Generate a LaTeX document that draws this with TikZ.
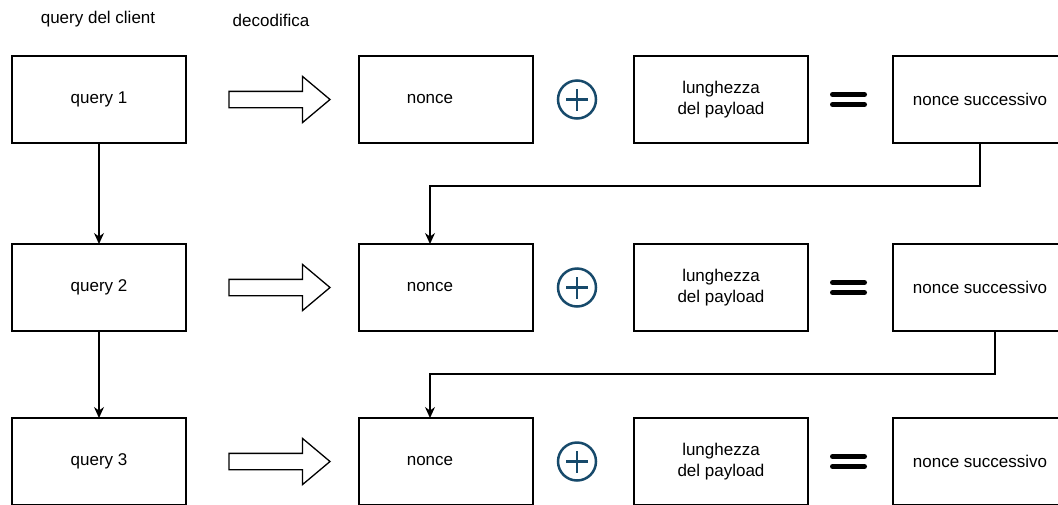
\documentclass[tikz,border=0pt]{standalone}
\usepackage{fontspec}
\setmainfont{Liberation Sans}
\usetikzlibrary{arrows.meta,positioning,shapes.arrows}

\definecolor{plusblue}{RGB}{23,74,107}

\begin{document}
\begin{tikzpicture}[
  x=1pt, y=1pt,
  font=\fontsize{17}{21}\selectfont,
  box/.style={rectangle, draw, line width=1.3pt, fill=white, minimum width=174pt, minimum height=87pt, inner sep=0pt, outer sep=0pt, align=center},
  hdr/.style={inner sep=0pt},
  fatarrow/.style={single arrow, draw, line width=1.3pt, minimum height=101pt, minimum width=45pt, single arrow head extend=15pt, single arrow tip angle=80, inner xsep=0pt, inner ysep=7.5pt, outer sep=0pt},
  plus/.style={circle, draw=plusblue, line width=2.5pt, minimum size=38pt, inner sep=0pt, outer sep=0pt,
    path picture={\draw[plusblue, line width=2.5pt]
      ([xshift=-11pt]path picture bounding box.center) -- ([xshift=11pt]path picture bounding box.center)
      ([yshift=-11pt]path picture bounding box.center) -- ([yshift=11pt]path picture bounding box.center);}},
  equals/.style={minimum width=37pt, minimum height=20pt, inner sep=0pt, outer sep=0pt,
    path picture={\draw[line width=5pt, line cap=round]
      ([xshift=2.5pt, yshift=5pt]path picture bounding box.west) -- ([xshift=-2.5pt, yshift=5pt]path picture bounding box.east)
      ([xshift=2.5pt, yshift=-5pt]path picture bounding box.west) -- ([xshift=-2.5pt, yshift=-5pt]path picture bounding box.east);}},
  arr/.style={-{Stealth[length=11pt, width=10pt]}, line width=1.3pt}
]
\useasboundingbox (0,0) rectangle (1058,-504);

% column headers
\node[hdr] (h1) at (98,-19) {query del client};
\node[hdr] (h2) at (271,-20) {decodifica};

% row 1
\node[box] (q1) at (99,-99.5) {query 1};
\node[fatarrow, right=43pt of q1] (d1) {};
\node[box, right=173pt of q1, label={[xshift=-16pt]center:nonce}] (n1) {};
\node[plus, right=25pt of n1] (c1) {};
\node[box, right=101pt of n1] (p1) {lunghezza\\del payload};
\node[equals, right=22pt of p1] (e1) {};
\node[box, right=85pt of p1] (s1) {nonce successivo};

% row 2
\node[box, below=101pt of q1] (q2) {query 2};
\node[fatarrow, right=43pt of q2] (d2) {};
\node[box, right=173pt of q2, label={[xshift=-16pt]center:nonce}] (n2) {};
\node[plus, right=25pt of n2] (c2) {};
\node[box, right=101pt of n2] (p2) {lunghezza\\del payload};
\node[equals, right=22pt of p2] (e2) {};
\node[box, right=85pt of p2] (s2) {nonce successivo};

% row 3
\node[box, below=87pt of q2] (q3) {query 3};
\node[fatarrow, right=43pt of q3] (d3) {};
\node[box, right=173pt of q3, label={[xshift=-16pt]center:nonce}] (n3) {};
\node[plus, right=25pt of n3] (c3) {};
\node[box, right=101pt of n3] (p3) {lunghezza\\del payload};
\node[equals, right=22pt of p3] (e3) {};
\node[box, right=85pt of p3] (s3) {nonce successivo};

\draw[arr] (q1) -- (q2);
\draw[arr] (q2) -- (q3);
\draw[arr] (s1.south) -- ++(0,-43) -| ([xshift=-16pt]n2.north);
\draw[arr] ([xshift=15pt]s2.south) -- ++(0,-43) -| ([xshift=-16pt]n3.north);
\end{tikzpicture}
\end{document}
